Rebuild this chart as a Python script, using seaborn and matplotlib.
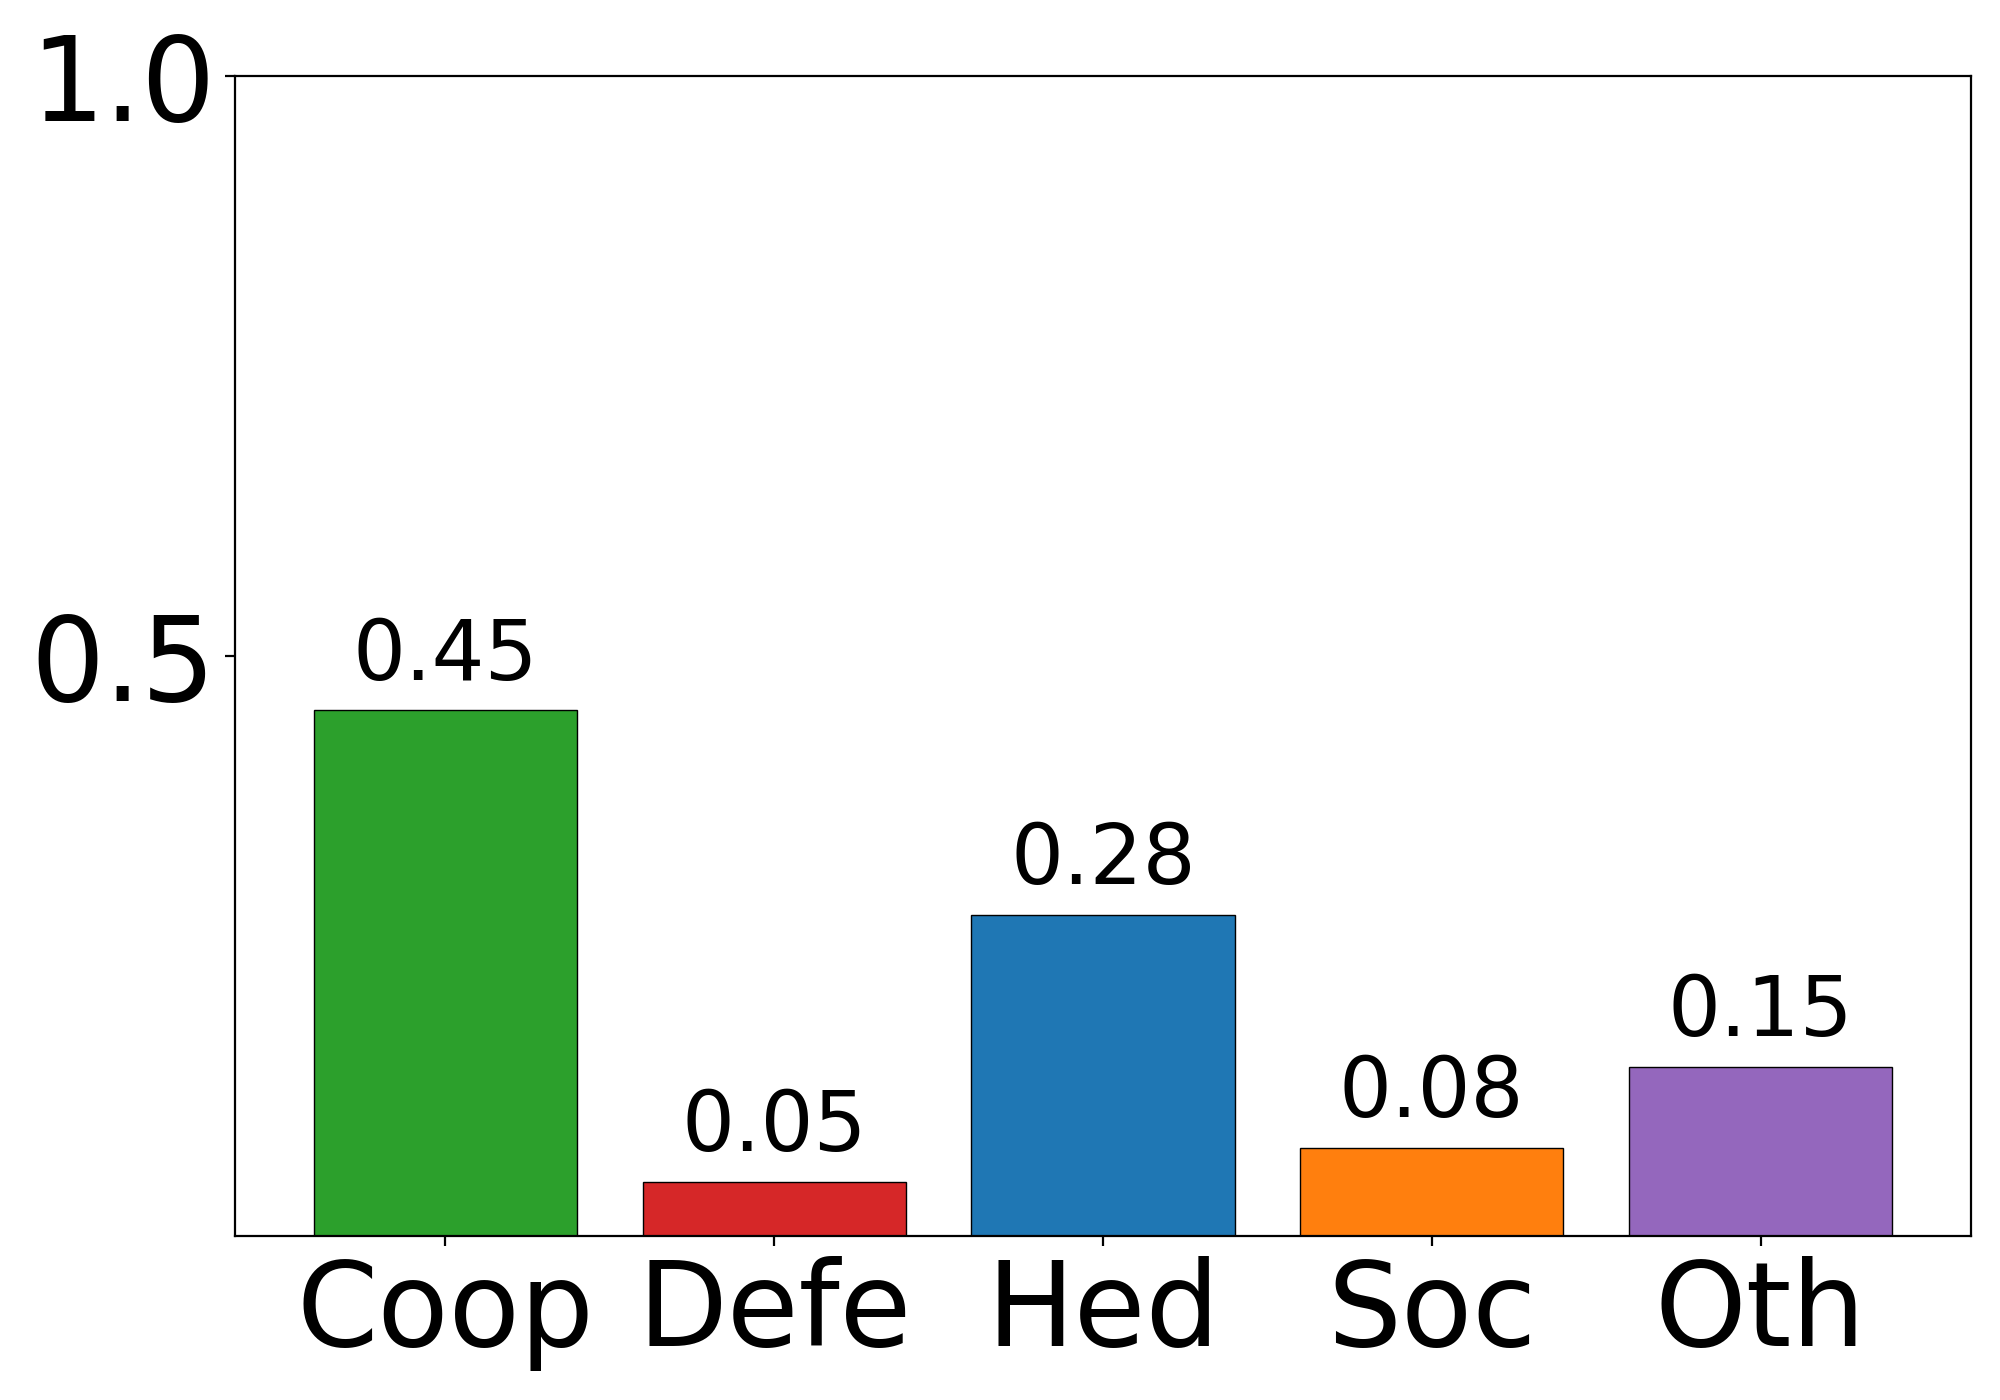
import matplotlib
matplotlib.use("Agg")
import matplotlib.pyplot as plt
import pandas as pd
import seaborn as sns

categories = ["Coop", "Defe", "Hed", "Soc", "Oth"]
values = [0.453, 0.047, 0.277, 0.076, 0.146]
colors = ["#2ca02c", "#d62728", "#1f77b4", "#ff7f0e", "#9467bd"]

df = pd.DataFrame({"category": categories, "value": values})

fig, ax = plt.subplots(figsize=(10, 7), dpi=200)
fig.subplots_adjust(left=0.1175, right=0.9855, bottom=0.117, top=0.946)

sns.barplot(
    x="category",
    y="value",
    hue="category",
    data=df,
    palette=colors,
    edgecolor="black",
    linewidth=0.5,
    width=0.8,
    saturation=1,
    legend=False,
    ax=ax,
)

for container in ax.containers:
    ax.bar_label(container, fmt="%.2f", fontsize=30, padding=5)

ax.set_ylim(0, 1.0)
ax.set_yticks([0.5, 1.0])
ax.set_xlim(-0.64, 4.64)
ax.tick_params(axis="x", labelsize=42)
ax.tick_params(axis="y", labelsize=42)
ax.set_xlabel("")
ax.set_ylabel("")

plt.savefig("out.png")
